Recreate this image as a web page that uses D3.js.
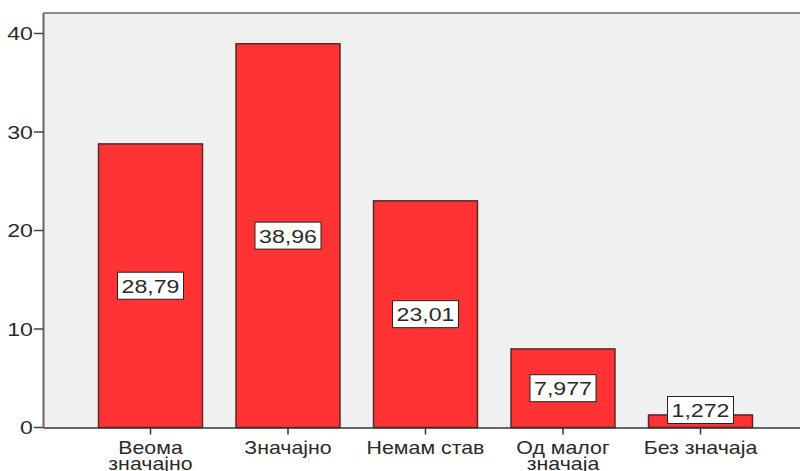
<!DOCTYPE html>
<meta charset="utf-8">
<style>
  body { margin: 0; background: #fff; }
  text { font-family: "Liberation Sans", Arial, sans-serif; fill: #2a2a2a; }
  .bar { fill: #ff3333; stroke: #5a2626; stroke-width: 1.5px; }
  .lbox { fill: #fff; stroke: #222; stroke-width: 1px; }
</style>
<body>
<svg width="800" height="471"></svg>
<script src="https://d3js.org/d3.v7.min.js"></script>
<script>

// categories (line-split labels) and percentages
var categories = ["Веома значајно", "Значајно", "Немам став", "Од малог значаја", "Без значаја"];
var catLines = [["Веома", "значајно"], ["Значајно"], ["Немам став"], ["Од малог", "значаја"], ["Без значаја"]];
var values = [28.79, 38.96, 23.01, 7.977, 1.272];
var valueLabels = ["28,79", "38,96", "23,01", "7,977", "1,272"];
var yTicks = [0, 10, 20, 30, 40];

var svg = d3.select("svg"),
    width = +svg.attr("width"),
    height = +svg.attr("height");

var plot = { left: 43.5, top: 13, right: 800, bottom: 427.5 };
var sx = 1.22; // text looks horizontally stretched in the source

var y = d3.scaleLinear().domain([0, 40]).range([plot.bottom, 33.5]);
var x = d3.scaleBand().domain(categories).range([81.75, 769.25])
  .paddingInner(0.244).paddingOuter(0.122);

// plot background + frame
svg.append("rect")
  .attr("x", plot.left).attr("y", plot.top)
  .attr("width", plot.right - plot.left).attr("height", plot.bottom - plot.top)
  .attr("fill", "#f0f0f0");
svg.append("line")
  .attr("x1", plot.left).attr("x2", plot.right)
  .attr("y1", plot.top).attr("y2", plot.top)
  .attr("stroke", "#8c8c8c").attr("stroke-width", 2);

// bars
svg.selectAll(".bar")
  .data(values)
  .enter().append("rect")
  .attr("class", "bar")
  .attr("x", (d, i) => x(categories[i]))
  .attr("width", x.bandwidth())
  .attr("y", d => y(d))
  .attr("height", d => y(0) - y(d));

// y axis
var yg = svg.append("g");
yg.append("line")
  .attr("x1", plot.left).attr("x2", plot.left)
  .attr("y1", plot.top).attr("y2", plot.bottom)
  .attr("stroke", "#666").attr("stroke-width", 2);
yTicks.forEach(function(t) {
  yg.append("line")
    .attr("x1", 34).attr("x2", plot.left)
    .attr("y1", y(t)).attr("y2", y(t))
    .attr("stroke", "#444").attr("stroke-width", 1.5);
  yg.append("text")
    .attr("transform", "translate(33," + (y(t) + 6.5) + ") scale(" + sx + ",1)")
    .attr("text-anchor", "end")
    .attr("font-size", 19)
    .text(t);
});

// x axis
svg.append("line")
  .attr("x1", plot.left).attr("x2", plot.right)
  .attr("y1", plot.bottom + 0.5).attr("y2", plot.bottom + 0.5)
  .attr("stroke", "#333").attr("stroke-width", 1.5);

categories.forEach(function(c, i) {
  var cx = x(c) + x.bandwidth() / 2;
  svg.append("line")
    .attr("x1", cx).attr("x2", cx)
    .attr("y1", plot.bottom).attr("y2", plot.bottom + 7)
    .attr("stroke", "#333").attr("stroke-width", 1.5);
  catLines[i].forEach(function(line, j) {
    svg.append("text")
      .attr("transform", "translate(" + cx + "," + (454 + j * 16) + ") scale(" + sx + ",1)")
      .attr("text-anchor", "middle")
      .attr("font-size", 17.5)
      .text(line);
  });
});

// value labels in boxes
var boxH = 27;
values.forEach(function(v, i) {
  var cx = x(categories[i]) + x.bandwidth() / 2;
  var cy = Math.min(y(v / 2), plot.bottom - 4 - boxH / 2);
  var g = svg.append("g");
  var t = g.append("text")
    .attr("transform", "translate(" + cx + "," + (cy + 7) + ") scale(" + sx + ",1)")
    .attr("text-anchor", "middle")
    .attr("font-size", 19)
    .attr("fill", "#222")
    .text(valueLabels[i]);
  var w = t.node().getBBox().width * sx + 8;
  g.insert("rect", "text")
    .attr("class", "lbox")
    .attr("x", cx - w / 2).attr("y", cy - boxH / 2)
    .attr("width", w).attr("height", boxH);
});

</script>
</body>
